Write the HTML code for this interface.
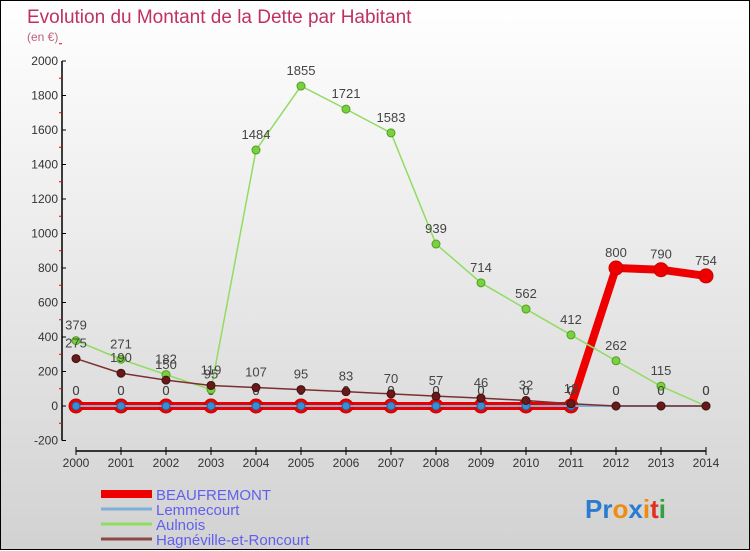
<!DOCTYPE html>
<html><head><meta charset="utf-8"><style>
html,body{margin:0;padding:0;}
body{width:750px;height:550px;overflow:hidden;font-family:"Liberation Sans",sans-serif;}
#wrap{position:relative;width:748px;height:548px;border:1px solid #000;background:linear-gradient(#ffffff,#d2d2d2);}
svg{position:absolute;left:0;top:0;}
</style></head><body>
<div id="wrap">
<svg id="chart" width="750" height="550">
<text x="26" y="22" font-size="19" fill="#c03060">Evolution du Montant de la Dette par Habitant</text>
<text x="26" y="40" font-size="12" fill="#c06080">(en €)</text>
<g id="axes"></g>
<g id="series"></g>
<g id="legend"></g>
<text x="584" y="517" font-size="26" font-weight="bold"><tspan fill="#2b7bd0">Pr</tspan><tspan fill="#f08a10">o</tspan><tspan fill="#2b7bd0">x</tspan><tspan fill="#f08a10">i</tspan><tspan fill="#e03020">t</tspan><tspan fill="#30a040">i</tspan></text>
</svg>
</div>
<script>
const years=[2000,2001,2002,2003,2004,2005,2006,2007,2008,2009,2010,2011,2012,2013,2014];
const yTicks=[-200,0,200,400,600,800,1000,1200,1400,1600,1800,2000];
const beaufremont=[0,0,0,0,0,0,0,0,0,0,0,0,800,790,754];
const lemmecourt=[0,0,0,0,0,0,0,0,0,0,0,0,0,0,0];
const aulnois=[379,271,182,95,1484,1855,1721,1583,939,714,562,412,262,115,0];
const hagneville=[275,190,150,119,107,95,83,70,57,46,32,13,0,0,0];
const NS="http://www.w3.org/2000/svg";
function X(i){return 75+i*45;}
function Y(v){return 405-v*0.1725;}
function el(tag,attrs,parent){const e=document.createElementNS(NS,tag);for(const k in attrs)e.setAttribute(k,attrs[k]);parent.appendChild(e);return e;}
const axes=document.getElementById('axes');
let a=el('line',{x1:61,y1:Y(2000),x2:61,y2:Y(-200),stroke:'#000','stroke-width':1.5},axes);


yTicks.forEach(v=>{
  el('line',{x1:61,y1:Y(v),x2:65,y2:Y(v),stroke:'#000'},axes);
  el('line',{x1:58,y1:Y(v+100),x2:61,y2:Y(v+100),stroke:'#e00'},axes);
  const t=el('text',{x:57,y:Y(v)+4,'font-size':12,fill:'#333','text-anchor':'end'},axes);
  t.textContent=v;
  
  
});
a=el('line',{x1:75,y1:450,x2:705,y2:450,stroke:'#000','stroke-width':1.5},axes);


years.forEach((yr,i)=>{
  el('line',{x1:X(i),y1:446,x2:X(i),y2:454,stroke:'#000'},axes);
  const t=el('text',{x:X(i),y:466,'font-size':12,fill:'#333','text-anchor':'middle'},axes);
  t.textContent=yr;
  
  
});
const sg=document.getElementById('series');
function draw(data,color,w,r,fill,stroke,sw,name){
  const g=el('g',{},sg);
  
  
  const p=el('polyline',{points:data.map((v,i)=>X(i)+','+Y(v)).join(' '),fill:'none',stroke:color,'stroke-width':w},g);
  
  
  data.forEach((v,i)=>{
    const c=el('circle',{cx:X(i),cy:Y(v),r:r,fill:fill,stroke:stroke,'stroke-width':sw},g);
    
    
    const t=el('text',{x:X(i),y:Y(v)-11,'font-size':13,fill:'#444','text-anchor':'middle'},g);
    t.textContent=v;
    
    
  });
}
draw(beaufremont,'#ee0000',8,7,'#ee0000','#cc0000',1,'beaufremont');
draw(lemmecourt,'#7fb0d8',2,4,'#3a8ed0','#2060a0',1,'lemmecourt');
draw(aulnois,'#90dd60',1.5,4,'#7ad040','#50a020',1,'aulnois');
draw(hagneville,'#7a3030',1.5,4,'#6a1818','#401010',1,'hagneville');
const lg=document.getElementById('legend');
const items=[['BEAUFREMONT','#ee0000',8],['Lemmecourt','#7fb0d8',3],['Aulnois','#90dd60',3],['Hagnéville-et-Roncourt','#8a4a4a',3]];
items.forEach((it,i)=>{
  const y=493+i*15;
  const g=el('g',{},lg);
  
  
  el('line',{x1:100,y1:y,x2:151,y2:y,stroke:it[1],'stroke-width':it[2]},g);
  const t=el('text',{x:155,y:y+6,'font-size':15,fill:'#6060ee'},g);
  t.textContent=it[0];
});
</script>
</body></html>
